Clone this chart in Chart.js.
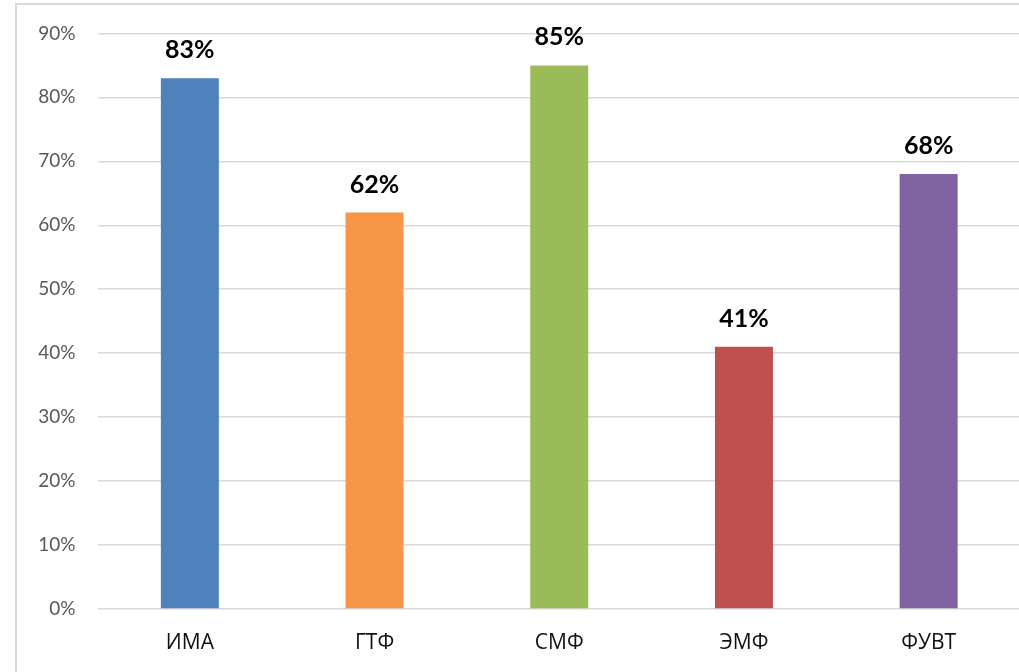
<!DOCTYPE html>
<html>
<head>
<meta charset="utf-8">
<script src="https://cdn.jsdelivr.net/npm/chart.js@4"></script>
<style>
  html, body { margin: 0; padding: 0; background: #fff; }
  #wrap { position: relative; width: 1019px; height: 672px; overflow: hidden; }
  #frame { position: absolute; left: 15px; top: 3px; width: 1100px; height: 700px;
           border-left: 2px solid #d9d9d9; border-top: 2px solid #d9d9d9; }
  canvas { position: absolute; left: 0; top: 0; }
</style>
</head>
<body>
<div id="wrap">
  <div id="frame"></div>
  <canvas id="chart" width="1023" height="672"></canvas>
</div>
<script>
// faculties and their shares, %
const categories = ["ИМА", "ГТФ", "СМФ", "ЭМФ", "ФУВТ"];
const values = [83, 62, 85, 41, 68];
const barColors = ["#4f81bd", "#f79646", "#9bbb59", "#c0504d", "#8064a2"];

// bold percent labels above each bar
const valueLabels = {
  id: "valueLabels",
  afterDatasetsDraw(chart) {
    const ctx = chart.ctx;
    const meta = chart.getDatasetMeta(0);
    ctx.save();
    ctx.font = "bold 25px Lato";
    ctx.fillStyle = "#000";
    ctx.textAlign = "center";
    ctx.textBaseline = "middle";
    meta.data.forEach((bar, i) => {
      ctx.fillText(values[i] + "%", bar.x, bar.y - 28);
    });
    ctx.restore();
  }
};

new Chart(document.getElementById("chart").getContext("2d"), {
  type: "bar",
  data: {
    labels: categories,
    datasets: [{
      data: values,
      backgroundColor: barColors,
      categoryPercentage: 1,
      barPercentage: 0.314
    }]
  },
  options: {
    responsive: false,
    animation: false,
    layout: { padding: { top: 33, right: 2, bottom: 0, left: 0 } },
    plugins: {
      legend: { display: false },
      tooltip: { enabled: false }
    },
    scales: {
      x: {
        grid: { display: false, drawTicks: false },
        border: { display: false },
        ticks: { padding: 21, color: "#111", font: { family: "Open Sans", size: 21 } },
        afterFit(scale) { scale.height = 63; }
      },
      y: {
        min: 0,
        max: 90,
        ticks: {
          stepSize: 10,
          padding: 22,
          color: "#595959",
          font: { family: "Lato", size: 19 },
          callback: v => v + "%"
        },
        grid: { color: "#d9d9d9", lineWidth: 1.5, drawTicks: false },
        border: { display: false },
        afterFit(scale) { scale.width = 97.5; }
      }
    }
  },
  plugins: [valueLabels]
});
</script>
</body>
</html>
